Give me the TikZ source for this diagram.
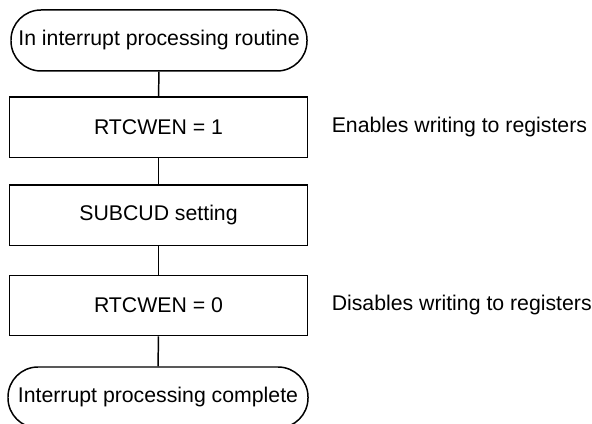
\documentclass[tikz,border=0pt]{standalone}
\usepackage{fontspec}
\setmainfont{Liberation Sans}

\begin{document}
\begin{tikzpicture}[line width=.85pt,font=\fontsize{12.1}{14.5}\selectfont,
  term/.style={draw,rounded corners=.6cm,minimum width=5.92cm,minimum height=1.22cm,inner sep=0pt},
  proc/.style={draw,minimum width=5.96cm,minimum height=1.21cm,inner sep=0pt},
  note/.style={anchor=west,inner sep=0pt}]
\useasboundingbox (0,0) rectangle (11.84,8.46);
\node[term] (start) at (3.18,7.65) {In interrupt processing routine};
\node[proc] (wenon) at (3.17,5.91) {RTCWEN = 1};
\node[proc] (subcud) at (3.17,4.15) {SUBCUD setting};
\node[proc] (wenoff) at (3.17,2.35) {RTCWEN = 0};
\node[term,minimum width=6cm] (done) at (3.16,0.51) {Interrupt processing complete};
\node[note] (enote) at (6.62,5.91) {Enables writing to registers};
\node[note] (dnote) at (6.62,2.35) {Disables writing to registers};
\draw (start) -- (wenon); \draw (wenon) -- (subcud); \draw (subcud) -- (wenoff); \draw (wenoff) -- (done);
\end{tikzpicture}
\end{document}
